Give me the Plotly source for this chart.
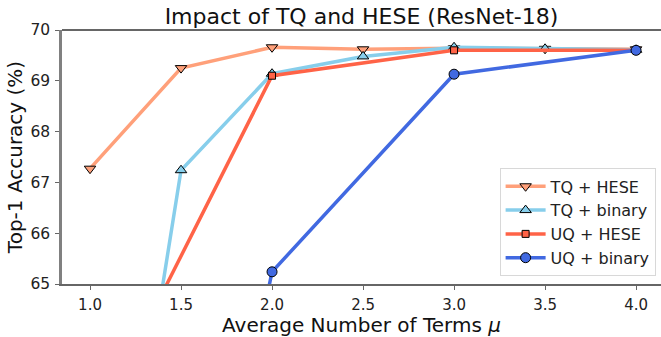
import plotly.graph_objects as go

# Data
tq_hese_x = [1.0, 1.5, 2.0, 2.5, 3.0, 3.5, 4.0]
tq_hese_y = [67.27, 69.25, 69.66, 69.62, 69.64, 69.63, 69.62]

tq_bin_x = [1.0, 1.5, 2.0, 2.5, 3.0, 3.5, 4.0]
tq_bin_y = [56.0, 67.24, 69.14, 69.48, 69.66, 69.63, 69.61]

uq_hese_x = [1.0, 2.0, 3.0, 4.0]
uq_hese_y = [62.0, 69.1, 69.6, 69.6]

uq_bin_x = [1.0, 2.0, 3.0, 4.0]
uq_bin_y = [48.0, 65.24, 69.13, 69.6]

series = [
    ("TQ + HESE", tq_hese_x, tq_hese_y, "#FFA07A", "triangle-down"),
    ("TQ + binary", tq_bin_x, tq_bin_y, "#87CEEB", "triangle-up"),
    ("UQ + HESE", uq_hese_x, uq_hese_y, "#FF6347", "square"),
    ("UQ + binary", uq_bin_x, uq_bin_y, "#4169E1", "circle"),
]

xticks = [1.0, 1.5, 2.0, 2.5, 3.0, 3.5, 4.0]
yticks = [65, 66, 67, 68, 69, 70]

FONT = "DejaVu Sans"

fig = go.Figure()
for name, xs, ys, color, sym in series:
    fig.add_trace(go.Scatter(
        x=xs, y=ys, name=name, mode="lines+markers",
        line=dict(color=color, width=3.5),
        marker=dict(symbol=sym, size=10 if sym != "square" else 7, color=color,
                    line=dict(color="black", width=1)),
        cliponaxis=True,
    ))

fig.update_layout(
    width=661, height=337,
    margin=dict(l=62, r=0, t=30, b=53),
    paper_bgcolor="white", plot_bgcolor="white",
    font=dict(family=FONT, size=16, color="#222"),
    title=dict(text="Impact of TQ and HESE (ResNet-18)", x=0.5, xref="paper",
               xanchor="center", y=0.953, yanchor="middle",
               font=dict(family=FONT, size=22, color="#111")),
    showlegend=True,
    legend=dict(x=0.991, y=0.03, xanchor="right", yanchor="bottom",
                bgcolor="white", bordercolor="#d8d8d8", borderwidth=1,
                font=dict(family=FONT, size=16, color="#222"),
                itemwidth=40, tracegroupgap=1),
)

fig.update_xaxes(
    range=[0.846, 4.137], tickvals=xticks, ticktext=[f"{v:.1f}" for v in xticks],
    showgrid=False, zeroline=False, showline=True, linecolor="#666", linewidth=1.5,
    ticks="outside", ticklen=4, tickcolor="#666", tickwidth=1,
    ticklabelstandoff=2,
    tickfont=dict(family=FONT, size=15, color="#222"),
    title=dict(text="Average Number of Terms <i>μ</i>", standoff=6,
               font=dict(family=FONT, size=20, color="#111")),
)
fig.update_yaxes(
    range=[65, 70], tickvals=yticks, ticktext=[str(v) for v in yticks],
    showgrid=False, zeroline=False, showline=True, linecolor="#808080", linewidth=2.5,
    ticks="outside", ticklen=4, tickcolor="#666", tickwidth=1,
    ticklabelstandoff=2,
    tickfont=dict(family=FONT, size=15.5, color="#222"),
    title=dict(text="Top-1 Accuracy (%)", standoff=3,
               font=dict(family=FONT, size=20, color="#111")),
)

# top spine
fig.add_shape(type="line", xref="paper", yref="paper", x0=0, x1=1, y0=1, y1=1,
              line=dict(color="#333", width=1.5))

fig.write_html("out.html")
